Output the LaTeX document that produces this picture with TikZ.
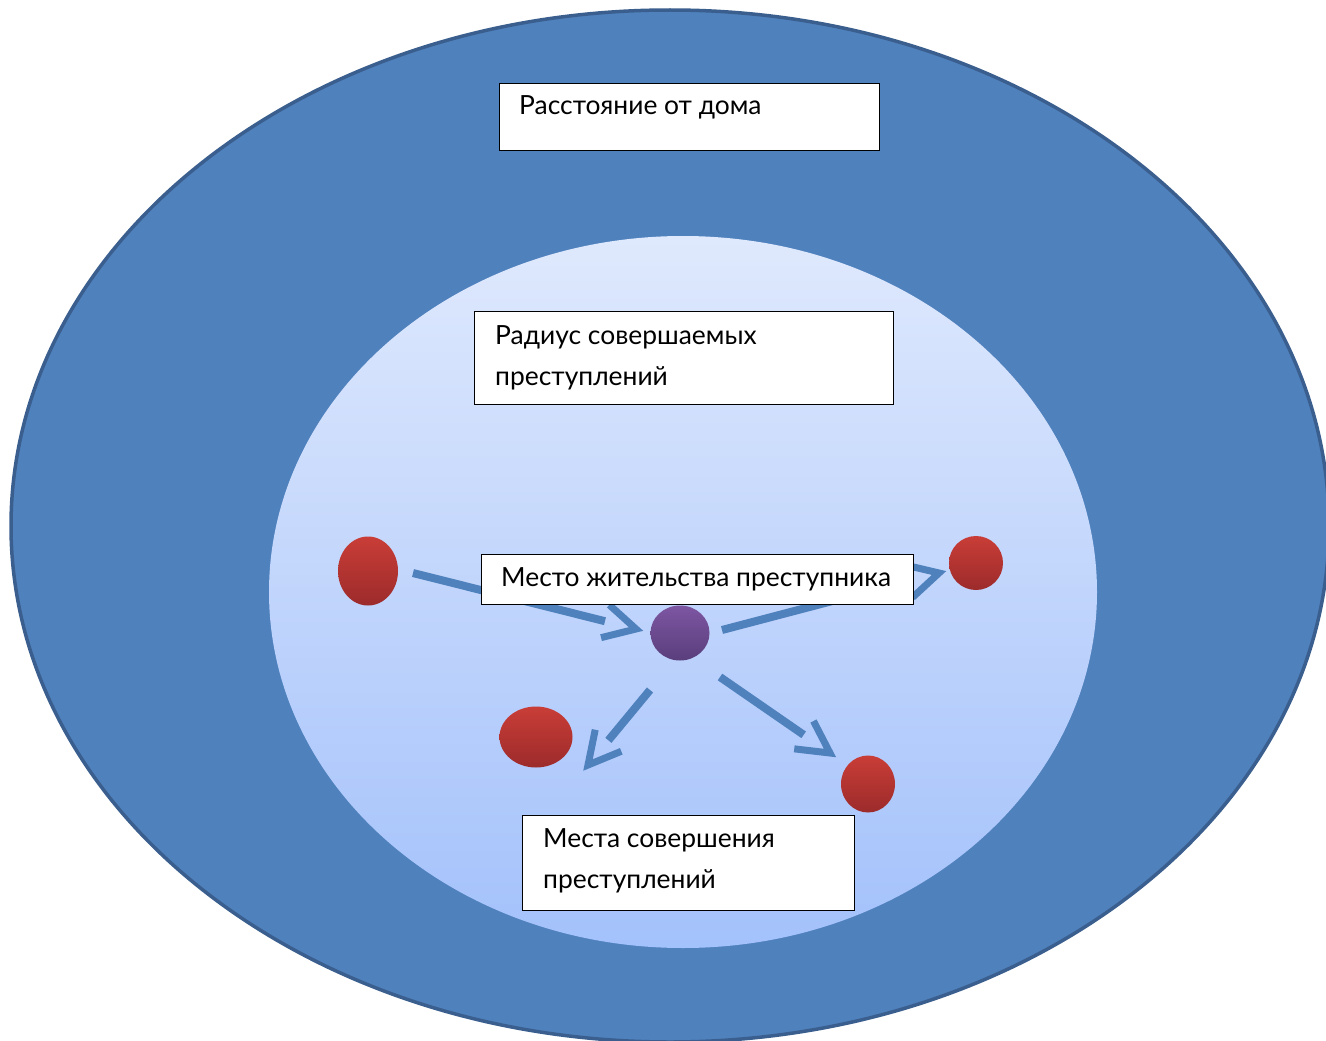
\documentclass[tikz,border=0pt]{standalone}
\usepackage{fontspec}
\setmainfont{Lato}
\usetikzlibrary{shapes.geometric,calc}
\definecolor{outerblue}{HTML}{4F81BD}
\definecolor{outerline}{HTML}{3A5F8E}
\definecolor{innertop}{HTML}{DFE9FD}
\definecolor{innerbot}{HTML}{A3C1FB}
\definecolor{redtop}{HTML}{C93D37}
\definecolor{redbot}{HTML}{9C2B2B}
\definecolor{purtop}{HTML}{7D56A2}
\definecolor{purbot}{HTML}{5A3E7C}
\tikzset{
  boxframe/.style={draw=black, line width=1.4pt, fill=white, rectangle, inner sep=0pt, anchor=north west},
  boxtext/.style={anchor=west, inner sep=0pt, align=left, font=\fontsize{26.4pt}{41pt}\selectfont},
  redball/.style={ellipse, draw=none, top color=redtop, bottom color=redbot, inner sep=0pt},
  purball/.style={ellipse, draw=none, top color=purtop, bottom color=purbot, inner sep=0pt},
  shaft/.style={draw=outerblue, line width=8pt, line cap=butt},
  vhead/.style={draw=outerblue, line width=7pt, line cap=butt, line join=miter}
}
\begin{document}
\begin{tikzpicture}[x=1pt,y=-1pt]
\useasboundingbox (0,0) rectangle (1326,1041);
\clip (0,0) rectangle (1326,1041);
% outer ellipse
\draw[fill=outerblue, draw=outerline, line width=3.5pt] (670,526) ellipse [x radius=659pt, y radius=516pt];
% inner ellipse
\shade[top color=innertop, bottom color=innerbot] (683,592) ellipse [x radius=414pt, y radius=356pt];

% balls
\node[redball, minimum width=60pt, minimum height=69pt] (r1) at (368,571) {};
\node[redball, minimum width=54pt, minimum height=54pt] (r2) at (976,563) {};
\node[purball, minimum width=59pt, minimum height=55pt] (home) at (680,633) {};
\node[redball, minimum width=73pt, minimum height=61pt] (r3) at (536,737) {};
\node[redball, minimum width=54pt, minimum height=57pt] (r4) at (868,784) {};

% arrow end points
\coordinate (a1s) at (413,573); \coordinate (a1t) at (636,629);
\coordinate (a2s) at (722,630); \coordinate (a2t) at (939,573);
\coordinate (a3s) at (650,690); \coordinate (a3t) at (588,765);
\coordinate (a4s) at (720,677); \coordinate (a4t) at (830,753);

\foreach \s/\t in {a1s/a1t, a2s/a2t, a3s/a3t, a4s/a4t}{
  \draw[shaft] (\s) -- ($(\t)!32pt!(\s)$);
  \draw[vhead] ($(\t)!36pt!28:(\s)$) -- (\t) -- ($(\t)!36pt!-28:(\s)$);
}

% boxes
\node[boxframe, minimum width=380pt, minimum height=67pt] (b1) at (499,83) {};
\node[boxtext] (t1) at (519,107.5) {Расстояние от дома};

\node[boxframe, minimum width=419pt, minimum height=93pt] (b2) at (474,311) {};
\node[boxtext] (t2) at (495,357.5) {Радиус совершаемых\\преступлений};

\node[boxframe, minimum width=432pt, minimum height=50pt] (b3) at (481,554) {};
\node[boxtext] (t3) at (501,579) {Место жительства преступника};

\node[boxframe, minimum width=332pt, minimum height=95pt] (b4) at (522,815) {};
\node[boxtext] (t4) at (543,860.5) {Места совершения\\преступлений};
\end{tikzpicture}
\end{document}
